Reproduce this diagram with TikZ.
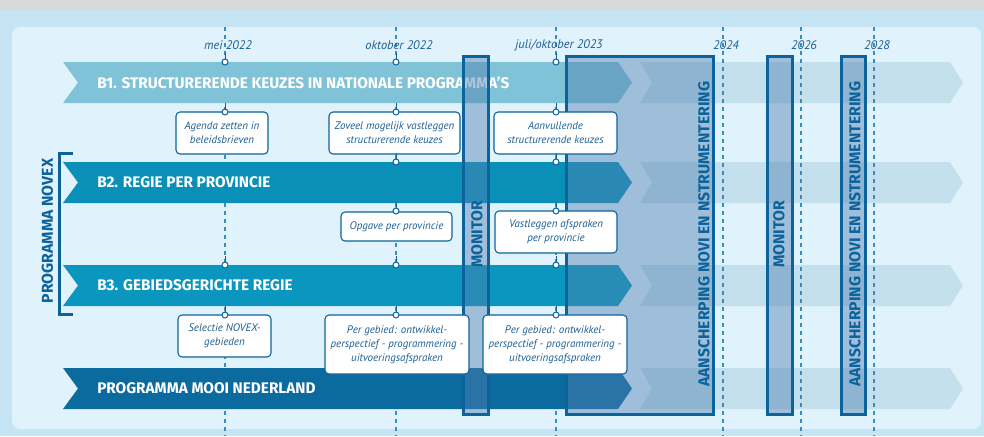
\documentclass[tikz,border=0pt]{standalone}
\usepackage{fontspec}
\setmainfont{PT Sans}
\newfontfamily\headfont{Fira Sans}
\definecolor{topgray}{HTML}{D9D9D9}
\definecolor{outerbg}{HTML}{C6E5F4}
\definecolor{innerbg}{HTML}{E0F2FB}
\definecolor{bandone}{HTML}{80C2D7}
\definecolor{bandtwo}{HTML}{0A8FB8}
\definecolor{bandthree}{HTML}{0A96BE}
\definecolor{bandmooi}{HTML}{0B6A9E}
\definecolor{fadeband}{HTML}{C4E0ED}
\definecolor{darkblue}{HTML}{0C639C}
\definecolor{textblue}{HTML}{1D5E93}
\definecolor{dashblue}{HTML}{3A8CC2}
\definecolor{overlay}{HTML}{5080B0}
\tikzset{
	dashline/.style={dashblue, line width=0.9pt, dash pattern=on 3pt off 3pt},
	datelabel/.style={text=textblue, font=\fontsize{9.3pt}{11pt}\selectfont\itshape},
	bandtext/.style={anchor=west, text=white, inner sep=0pt, font=\headfont\fontsize{11.5pt}{13pt}\selectfont\bfseries},
	block/.style={draw=darkblue, line width=2.25pt, fill=overlay, fill opacity=0.45},
	vlabel/.style={rotate=90, text=darkblue, inner sep=0pt, font=\headfont\fontsize{11.8pt}{13pt}\selectfont\bfseries},
	callout/.style={draw=darkblue, fill=white, line width=0.8pt, rounded corners=3pt, align=center, inner sep=0pt, text=textblue, font=\fontsize{8.2pt}{10.5pt}\selectfont\itshape},
	dot/.style={circle, draw=darkblue, fill=white, line width=0.75pt, inner sep=0pt, minimum size=4.5pt},
	conn/.style={darkblue, line width=0.75pt},
	bracket/.style={darkblue, line width=2.25pt}
}
\begin{document}
\begin{tikzpicture}[x=0.75pt,y=-0.75pt]
		\useasboundingbox (0,0) rectangle (984,436);
		\fill[topgray] (0,0) rectangle (984,10);
		\fill[outerbg] (0,10) rectangle (984,436);
		\fill[innerbg, rounded corners=6pt] (12,27) rectangle (981,429);
		
		% faded continuation of the rows
		\foreach \y in {62,162,265,368}{
			\fill[fadeband] (640,\y) -- (950,\y) -- (963,{\y+20.5}) -- (950,{\y+41}) -- (640,{\y+41}) -- (652,{\y+20.5}) -- cycle;
		}
		
		% time axis
		\foreach \x/\t in {225/{mei 2022}, 396/{oktober 2022}, 556/{juli/oktober 2023}, 723/2024, 801/2026, 874/2028}{
			\draw[dashline] (\x,27) -- (\x,436);
			\node[datelabel] (t\x) at ({\x+3},45) {\t};
		}
		
		\foreach \y/\c/\n/\t in {62/bandone/bone/{B1. STRUCTURERENDE KEUZES IN NATIONALE PROGRAMMA’S}, 162/bandtwo/btwo/{B2. REGIE PER PROVINCIE}, 265/bandthree/bthree/{B3. GEBIEDSGERICHTE REGIE}, 368/bandmooi/mooi/{PROGRAMMA MOOI NEDERLAND}}{
			\fill[\c] (63,\y) -- (618,\y) -- (632,{\y+20.5}) -- (618,{\y+41}) -- (63,{\y+41}) -- (78,{\y+20.5}) -- cycle;
			\node[bandtext] (\n) at (97,{\y+20.5}) {\t};
		}
		
		\draw[bracket] (73,153) -- (59,153) -- (59,314) -- (73,314);
		\node[vlabel] (novex) at (47.5,231) {PROGRAMMA NOVEX};
		
		\draw[block] (566,56) rectangle (713,414);
		\draw[block] (463,56) rectangle (488,414);
		\draw[block] (767,56) rectangle (792,414);
		\draw[block] (841,56) rectangle (865,414);
		\node[vlabel, anchor=west] (aanscherpa) at (704,387) {AANSCHERPING NOVI EN NSTRUMENTERING};
		\node[vlabel, anchor=west] (monitora) at (477,268) {MONITOR};
		\node[vlabel, anchor=west] (monitorb) at (779,268) {MONITOR};
		\node[vlabel, anchor=west] (aanscherpb) at (855,387) {AANSCHERPING NOVI EN NSTRUMENTERING};
		
		\node[callout, minimum width=69pt, minimum height=31.5pt] (agenda) at (222,133) {Agenda zetten in\\beleidsbrieven};
		\node[callout, minimum width=98.25pt, minimum height=31.5pt] (zoveel) at (394.5,133) {Zoveel mogelijk vastleggen\\structurerende keuzes};
		\node[callout, minimum width=92.25pt, minimum height=31.5pt] (aanvul) at (555.5,133) {Aanvullende\\structurerende keuzes};
		\node[callout, minimum width=83.25pt, minimum height=21.75pt] (opgave) at (396.5,226.5) {Opgave per provincie};
		\node[callout, minimum width=91.5pt, minimum height=31.5pt] (vastleggen) at (556,232) {Vastleggen afspraken\\per provincie};
		\node[callout, minimum width=69.75pt, minimum height=31.5pt] (selectie) at (224.5,336) {Selectie NOVEX-\\gebieden};
		\node[callout, minimum width=108pt, minimum height=44.25pt] (gebieda) at (397,344.5) {Per gebied: ontwikkel-\\perspectief - programmering -\\uitvoeringsafspraken};
		\node[callout, minimum width=108pt, minimum height=44.25pt] (gebiedb) at (555,344.5) {Per gebied: ontwikkel-\\perspectief - programmering -\\uitvoeringsafspraken};
		
		\foreach \x/\y in {225/62, 225/112, 225/265, 225/315, 396/62, 396/112, 396/162, 396/211, 396/265, 396/315, 556/62, 556/112, 556/162, 556/211, 556/265, 556/315}{
			\coordinate (u\x-\y) at (\x,{\y-9});
			\draw[conn] (u\x-\y) -- (\x,\y);
			\node[dot] (d\x-\y) at (\x,\y) {};
		}
\end{tikzpicture}
\end{document}
